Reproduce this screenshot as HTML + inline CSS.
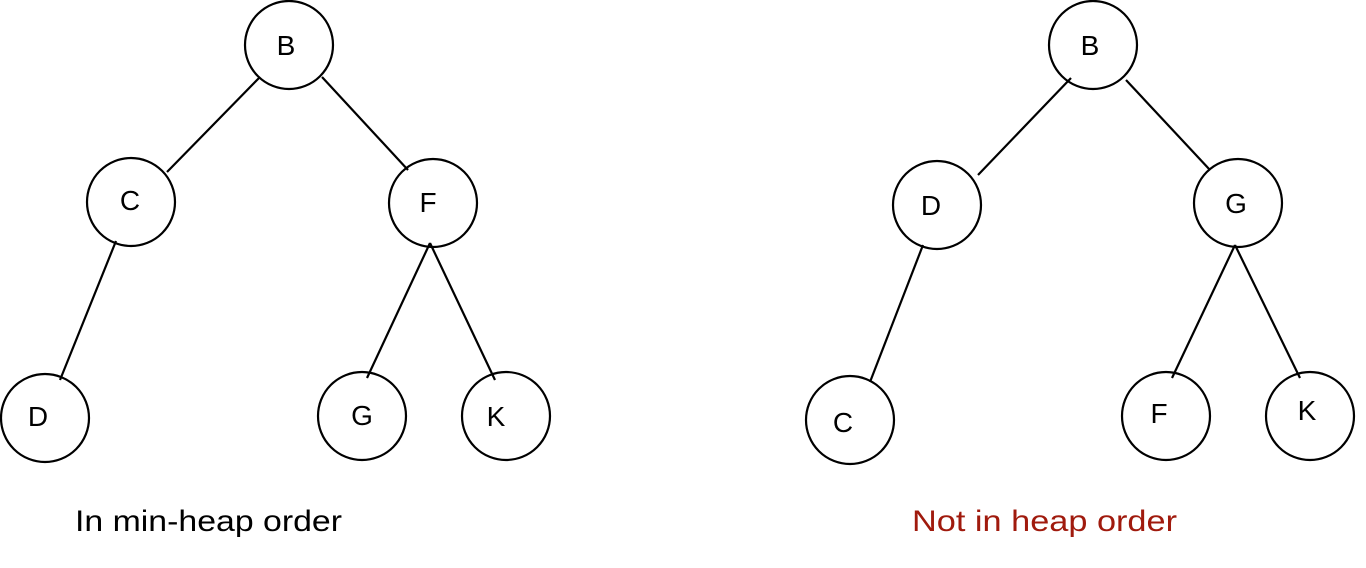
<!DOCTYPE html>
<html><head><meta charset="utf-8"><style>html,body{margin:0;padding:0;background:#fff}svg{display:block}</style></head><body>
<svg width="1366" height="568" viewBox="0 0 1366 568" xmlns="http://www.w3.org/2000/svg" font-family="Liberation Sans, sans-serif">
<g fill="none" stroke="#000" stroke-width="2.2">
<circle cx="289" cy="45" r="44"/><circle cx="131" cy="202" r="44"/><circle cx="433" cy="203" r="44"/>
<circle cx="45" cy="418" r="44"/><circle cx="362" cy="416" r="44"/><circle cx="506" cy="416" r="44"/>
<line x1="259" y1="78" x2="167" y2="172"/><line x1="322" y1="77" x2="408" y2="170"/>
<line x1="116" y1="241" x2="60" y2="380"/><line x1="430" y1="243" x2="367" y2="378"/><line x1="430" y1="243" x2="495" y2="380"/>
<circle cx="1093" cy="45" r="44"/><circle cx="937" cy="205" r="44"/><circle cx="1238" cy="203" r="44"/>
<circle cx="850" cy="420" r="44"/><circle cx="1166" cy="416" r="44"/><circle cx="1310" cy="416" r="44"/>
<line x1="1071" y1="78" x2="978" y2="175"/><line x1="1126" y1="80" x2="1210" y2="170"/>
<line x1="923" y1="245" x2="870" y2="382"/><line x1="1235" y1="245" x2="1172" y2="378"/><line x1="1235" y1="245" x2="1300" y2="378"/>
</g>
<g font-size="28" fill="#000" text-anchor="middle">
<text x="286" y="55">B</text><text x="130" y="210">C</text><text x="428" y="212">F</text>
<text x="38" y="426">D</text><text x="362" y="425">G</text><text x="496" y="426">K</text>
<text x="1090" y="55">B</text><text x="931" y="215">D</text><text x="1236" y="213">G</text>
<text x="843" y="432">C</text><text x="1159" y="423">F</text><text x="1307" y="420">K</text>
</g>
<text x="75" y="531" font-size="30" textLength="267" lengthAdjust="spacingAndGlyphs">In min-heap order</text>
<text x="912" y="531" font-size="30" fill="#a01a0d" textLength="265" lengthAdjust="spacingAndGlyphs">Not in heap order</text>
</svg>
</body></html>
